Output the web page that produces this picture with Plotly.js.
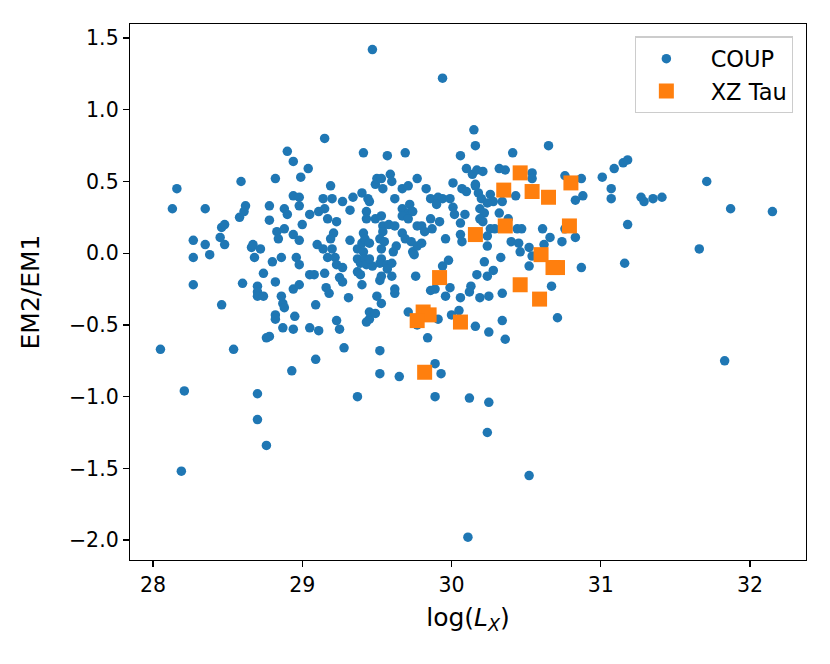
<!DOCTYPE html>
<html>
<head>
<meta charset="utf-8">
<script src="https://cdn.plot.ly/plotly-3.0.1.min.js"></script>
<style>
html,body{margin:0;padding:0;background:#fff;}
#chart{width:830px;height:664px;}
</style>
</head>
<body>
<div id="chart"></div>
<script>
// COUP sample: log(L_X) and EM2/EM1
const coupLx = [
28.05,28.13,28.16,28.21,28.19,28.27,28.27,28.27,28.35,28.35,28.38,28.45,28.46,28.48,28.46,28.48,28.54,28.58,28.59,28.61,
28.62,28.60,28.66,28.67,28.68,28.72,28.70,28.70,28.70,28.74,28.70,28.70,28.76,28.74,28.76,28.78,28.78,28.78,28.80,28.82,
28.82,28.83,28.84,28.82,28.82,28.86,28.87,28.86,28.88,28.87,28.88,28.90,28.88,28.90,28.94,28.94,28.94,28.94,28.94,28.95,
28.93,28.96,28.98,28.98,28.98,28.98,28.98,28.99,29.00,29.04,29.05,29.05,29.05,29.09,29.09,29.10,29.11,29.08,29.11,29.14,
29.15,29.14,29.15,29.15,29.16,29.18,29.19,29.17,29.17,29.20,29.21,29.19,29.20,29.23,29.22,29.23,29.27,29.27,29.25,29.27,
29.23,29.25,29.28,29.31,29.32,29.32,29.34,29.37,29.40,29.41,29.37,29.39,29.42,29.37,29.39,29.37,29.40,29.41,29.44,29.40,
29.41,29.42,29.43,29.43,29.43,29.45,29.45,29.43,29.45,29.49,29.45,29.49,29.49,29.50,29.52,29.52,29.52,29.50,29.47,29.47,
29.45,29.53,29.59,29.60,29.53,29.54,29.58,29.62,29.54,29.52,29.55,29.53,29.53,29.52,29.57,29.60,29.53,29.57,29.53,29.54,
29.62,29.57,29.60,29.61,29.63,29.62,29.62,29.65,29.67,29.71,29.67,29.72,29.71,29.74,29.67,29.71,29.67,29.69,29.73,29.69,
29.71,29.74,29.75,29.77,29.80,29.77,29.76,29.77,29.77,29.80,29.82,29.87,29.83,29.86,29.91,29.94,29.86,29.92,29.90,29.84,
29.86,29.89,29.89,29.89,29.91,29.93,29.94,29.98,29.96,29.94,29.99,30.01,30.01,30.02,29.96,29.99,30.00,30.06,30.06,30.07,
30.06,30.07,30.06,30.05,30.10,30.14,30.17,30.21,30.10,30.16,30.18,30.09,30.15,30.16,30.13,30.12,30.17,30.16,30.12,30.11,
30.19,30.25,30.24,30.28,30.25,30.25,30.24,30.19,30.22,30.19,30.21,30.24,30.24,30.22,30.20,30.26,30.28,30.24,30.26,30.29,
30.32,30.16,30.36,30.33,30.34,30.32,30.38,30.34,30.34,30.36,30.41,30.43,30.44,30.47,30.40,30.45,30.46,30.54,30.52,30.52,
30.54,30.54,30.52,30.61,30.66,30.62,30.65,30.67,30.71,30.74,30.76,30.76,30.83,30.87,30.87,30.88,30.83,31.01,31.07,31.07,
31.09,31.15,31.18,31.16,31.18,31.27,31.29,31.35,31.41,31.66,31.71,31.83,31.87,32.15
];
const coupRatio = [
-0.67,0.31,0.45,-0.96,-1.52,-0.22,-0.03,0.09,0.31,0.06,-0.01,0.11,0.18,0.20,-0.36,0.06,-0.67,0.25,0.50,0.29,
0.33,-0.21,0.04,0.06,-0.03,0.03,-0.23,-0.27,-0.30,-0.30,-0.98,-1.16,-1.34,-0.14,-0.59,-0.58,0.33,0.23,-0.06,0.52,
-0.20,0.15,0.10,-0.43,-0.46,-0.03,-0.35,-0.30,-0.38,-0.52,0.31,0.27,0.17,0.71,0.64,0.40,0.13,-0.25,-0.53,-0.44,
-0.82,-0.03,-0.08,0.39,0.33,0.09,-0.22,0.53,0.20,0.59,0.27,-0.15,-0.52,-0.36,-0.74,0.06,0.29,-0.15,-0.54,0.38,
0.31,0.03,-0.14,0.80,-0.24,-0.28,0.47,0.24,-0.03,0.38,0.14,0.10,0.03,0.22,-0.03,-0.08,0.36,-0.10,-0.17,-0.20,
-0.47,-0.53,-0.66,-0.31,0.30,0.09,0.39,0.03,0.07,0.01,-0.04,-0.07,-0.04,-0.13,-0.15,-1.00,0.42,0.70,0.38,-0.22,
0.14,0.10,0.29,0.24,-0.08,0.07,-0.46,-0.48,-0.41,-0.42,0.36,0.24,0.48,0.52,-0.19,-0.68,-0.84,-0.30,-0.09,1.42,
-0.04,0.52,0.55,0.50,0.26,0.19,0.20,0.19,0.15,0.10,0.08,0.03,-0.04,-0.07,-0.08,-0.07,-0.16,0.68,-0.35,0.45,
0.38,-0.11,-0.16,0.01,0.05,-0.25,-0.28,-0.86,0.45,0.47,0.31,0.34,0.28,0.29,0.26,0.24,0.14,0.10,0.08,0.70,
-0.41,0.01,-0.01,0.05,0.07,0.52,-0.16,0.19,-0.50,0.19,0.15,0.17,0.45,0.38,0.39,0.38,0.24,0.22,0.34,-0.59,
-0.26,-0.25,-0.77,-1.00,-0.46,-0.84,-0.09,-0.05,0.10,1.22,0.38,0.49,0.32,0.27,-0.30,-0.24,-0.43,0.21,0.13,0.08,
0.68,0.45,-0.31,-0.40,0.59,0.55,0.58,0.57,0.43,0.47,0.42,0.27,0.86,0.75,-0.23,-0.27,-0.15,-0.51,-1.01,-1.98,
-0.31,-0.30,-0.16,-0.12,-0.55,-1.04,-1.25,0.31,0.28,0.24,0.22,0.12,0.05,-0.06,0.38,0.41,0.36,0.35,0.17,0.17,
0.59,0.48,0.58,-0.03,0.36,0.28,0.24,-0.28,-0.47,-0.60,0.70,0.40,0.17,0.17,0.08,0.07,0.01,-0.02,-0.09,-1.55,
0.56,0.52,0.04,0.17,0.11,0.06,0.75,-0.23,-0.45,0.08,0.17,0.54,0.11,-0.10,0.52,0.40,0.37,0.53,0.45,0.38,
0.59,0.63,0.65,-0.07,0.20,0.39,0.36,0.38,0.39,0.03,0.50,-0.75,0.31,0.29
];
// XZ Tau observations
const xzLx = [30.46,30.35,30.54,30.65,30.80,30.36,30.79,30.16,30.60,30.68,30.71,30.46,30.59,29.92,29.81,29.85,29.77,30.06,29.82];
const xzRatio = [0.56,0.44,0.43,0.39,0.49,0.19,0.19,0.13,-0.01,-0.10,-0.10,-0.22,-0.32,-0.17,-0.41,-0.43,-0.47,-0.48,-0.83];

const seriesNames = ['COUP', 'XZ Tau'];
const xTicks = [28, 29, 30, 31, 32];
const yTicks = [-2.0, -1.5, -1.0, -0.5, 0.0, 0.5, 1.0, 1.5];

const pad = '\u00a0\u00a0';
const traces = [
  {x: coupLx, y: coupRatio, type: 'scatter', mode: 'markers', name: pad + seriesNames[0],
   marker: {color: '#1f77b4', size: 9.5, symbol: 'circle', line: {width: 0}}},
  {x: xzLx, y: xzRatio, type: 'scatter', mode: 'markers', name: pad + seriesNames[1],
   marker: {color: '#ff7f0e', size: 15, symbol: 'square', line: {width: 0}}}
];

const font = 'DejaVu Sans, sans-serif';
const layout = {
  width: 830, height: 664,
  margin: {l: 130, r: 24, t: 24, b: 104},
  paper_bgcolor: '#fff', plot_bgcolor: '#fff',
  font: {family: font, size: 20, color: '#000'},
  showlegend: true,
  legend: {x: 0.981, y: 0.977, xanchor: 'right', yanchor: 'top',
    bgcolor: 'rgba(255,255,255,0.8)', bordercolor: '#cccccc', borderwidth: 1.2,
    font: {family: font, size: 22.5, color: '#000'}, itemsizing: 'trace', itemwidth: 50},
  xaxis: {range: [27.846, 32.375], tickvals: xTicks, ticktext: xTicks.map(String),
    showgrid: false, zeroline: false, showline: true, mirror: true, linecolor: '#000', linewidth: 1.2,
    ticks: 'outside', ticklen: 6, tickwidth: 1.2, tickcolor: '#000',
    tickfont: {family: font, size: 20.5},
    title: {text: 'log(<i>L</i><sub><i>X</i></sub>)', font: {family: font, size: 25}, standoff: 12}},
  yaxis: {range: [-2.139, 1.598], tickvals: yTicks, ticktext: yTicks.map(v => (v < 0 ? '\u2212' : '') + Math.abs(v).toFixed(1)),
    showgrid: false, zeroline: false, showline: true, mirror: true, linecolor: '#000', linewidth: 1.2,
    ticks: 'outside', ticklen: 6, tickwidth: 1.2, tickcolor: '#000',
    tickfont: {family: font, size: 20.5},
    title: {text: 'EM2/EM1', font: {family: font, size: 25}, standoff: 22}}
};

Plotly.newPlot('chart', traces, layout, {displayModeBar: false, staticPlot: true});
</script>
</body>
</html>
